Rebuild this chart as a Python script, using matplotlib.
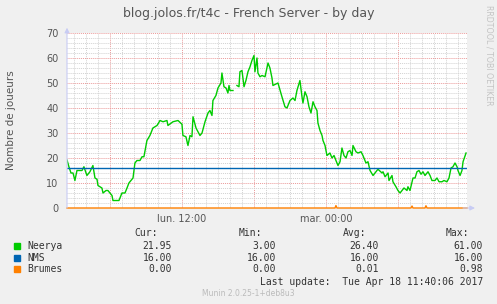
import numpy as np
import matplotlib.pyplot as plt
from matplotlib.ticker import MultipleLocator, FixedLocator

# Time in hours since Monday 00:00
neerya_t = [2.42, 2.58, 2.75, 2.92, 3.08, 3.25, 3.67, 3.83, 4.08, 4.33, 4.58, 4.75, 4.92, 5.0,
            5.33, 5.42, 5.67, 5.83, 6.17, 6.25, 6.75, 7.0, 7.25, 7.42, 7.58, 7.92, 8.08, 8.25,
            8.5, 8.67, 8.83, 9.08, 9.33, 9.58, 9.92, 10.17, 10.42, 10.75, 10.83, 11.25, 11.67,
            12.0, 12.08, 12.33, 12.5, 12.67, 12.83, 12.92, 13.17, 13.33, 13.5, 13.67, 13.92,
            14.17, 14.33, 14.5, 14.58, 14.83, 15.0, 15.25, 15.33, 15.5, 15.67, 15.83, 15.92,
            16.0, 16.25, 16.42, 16.58, 16.75, 16.83, 17.0, 17.17, 17.33, 17.5, 17.67, 17.83,
            18.0, 18.08, 18.25, 18.33, 18.5, 18.67, 18.92, 19.08, 19.17, 19.33, 19.5, 19.58,
            20.0, 20.33, 20.58, 20.75, 21.0, 21.25, 21.42, 21.58, 21.83, 22.0, 22.08, 22.25,
            22.42, 22.58, 22.75, 22.92, 23.08, 23.25, 23.33, 23.5, 23.67, 23.75, 23.92, 24.08,
            24.33, 24.5, 24.67, 24.83, 25.0, 25.17, 25.33, 25.5, 25.67, 25.83, 26.0, 26.17,
            26.25, 26.5, 26.67, 26.92, 27.08, 27.33, 27.5, 27.67, 27.92, 28.17, 28.33, 28.67,
            28.75, 28.92, 29.17, 29.25, 29.5, 29.58, 29.83, 30.0, 30.17, 30.33, 30.5, 30.75,
            30.83, 31.0, 31.17, 31.25, 31.42, 31.58, 31.75, 31.92, 32.08, 32.25, 32.5, 32.67,
            32.83, 33.08, 33.25, 33.42, 33.67, 33.83, 34.08, 34.25, 34.42, 34.58, 34.75, 34.92,
            35.0, 35.17, 35.33, 35.42, 35.67]
neerya_v = [19.2, 16.5, 14, 14, 11, 15, 15, 16.5, 13, 14.5, 17, 12, 11.5, 9,
            8, 6, 7, 7, 5, 3, 3, 6, 6, 8, 10, 12, 18, 19,
            19, 20.5, 20.5, 27, 29, 32, 33, 35, 34.5, 35, 33, 34.5, 35,
            33.5, 29, 28.5, 25, 29, 28.5, 36.5, 32, 30.5, 29, 30, 34.5,
            38, 39, 37, 43, 45, 48, 50, 54, 48.5, 48, 46, 49,
            47, 47, np.nan, 49, 48.5, 54.5, 55, 48.5, 51, 54.5, 56.5, 59,
            61, 54.5, 60, 54, 52.5, 53, 52.5, 56, 58, 56, 52, 49,
            50, 44.5, 40.5, 40, 43, 44, 43, 47, 51, 44.5, 42, 46.5,
            44.5, 40.5, 38, 42.5, 40.5, 39, 34, 31, 29, 27, 25, 21,
            22, 20, 21, 19, 17, 18.5, 24, 21, 20, 22.5, 23, 21,
            25, 22.5, 22, 22.5, 21, 18, 18.5, 15, 13, 14.5, 15.5, 14,
            14.5, 12.5, 14, 11, 13, 10.5, 8.5, 7, 6, 7, 8, 7,
            8.5, 7, 10.5, 12, 12, 14.5, 15, 13.5, 14.5, 13, 14.5, 13,
            11, 11, 12, 10.5, 10.5, 11, 10.5, 12, 16, 16.5, 18, 16.5,
            15, 13, 15, 18.5, 22]

nms_t = [2.42, 35.75]
nms_v = [16, 16]

brumes_t = [2.42, 24.75, 24.83, 24.92, 31.08, 31.17, 31.25, 32.25, 32.33, 32.42, 35.75]
brumes_v = [0, 0, 0.98, 0, 0, 0.8, 0, 0, 0.9, 0, 0]

names = ['Neerya', 'NMS', 'Brumes']
colors = ['#00cc00', '#0066b3', '#ff8000']
cur = ['21.95', '16.00', '0.00']
mins = ['3.00', '16.00', '0.00']
avgs = ['26.40', '16.00', '0.01']
maxs = ['61.00', '16.00', '0.98']

xlabels = ['lun. 12:00', 'mar. 00:00']

W, H = 497, 304
fig = plt.figure(figsize=(W / 100, H / 100), dpi=100, facecolor='#f0f0f0')
ax = fig.add_axes([67 / W, 96 / H, 400 / W, 175 / H])
ax.set_facecolor('white')

x0, x1 = 2.42, 35.75
ax.set_xlim(x0, x1)
ax.set_ylim(0, 70)

# grid: red every 6h / 10 players, grey every hour / 2 players
ax.xaxis.set_major_locator(FixedLocator([6, 12, 18, 24, 30]))
ax.xaxis.set_minor_locator(MultipleLocator(1))
ax.yaxis.set_major_locator(MultipleLocator(10))
ax.yaxis.set_minor_locator(MultipleLocator(2))
ax.grid(which='minor', color='#d2d2d2', linestyle=(0, (1, 1)), linewidth=0.7)
ax.grid(which='major', color='#eb9a9a', linestyle=(0, (1, 1)), linewidth=0.7)
ax.set_axisbelow(True)
ax.set_xticklabels(['', xlabels[0], '', xlabels[1], ''])
ax.tick_params(which='both', length=0, labelsize=7, colors='#555555', pad=4)
ax.tick_params(axis='y', pad=6)
for s in ax.spines.values():
    s.set_visible(False)

ax.plot(neerya_t, neerya_v, color=colors[0], lw=1.0)
ax.plot(nms_t, nms_v, color=colors[1], lw=1.0)
ax.plot(brumes_t, brumes_v, color=colors[2], lw=1.0, clip_on=False)

# axes with arrows
axis_col = '#c8ccf4'
ax.annotate('', xy=(0, 1.03), xytext=(0, 0), xycoords='axes fraction',
            arrowprops=dict(arrowstyle='-|>', color=axis_col, lw=0.8, mutation_scale=7,
                            shrinkA=0, shrinkB=0), annotation_clip=False)
ax.annotate('', xy=(1.02, 0), xytext=(0.99, 0), xycoords='axes fraction',
            arrowprops=dict(arrowstyle='-|>', color=axis_col, lw=0.8, mutation_scale=7,
                            shrinkA=0, shrinkB=0), annotation_clip=False)

ax.set_ylabel('Nombre de joueurs', fontsize=7.5, color='#555555', labelpad=22)

fig.text(249 / W, 1 - 14 / H, 'blog.jolos.fr/t4c - French Server - by day',
         ha='center', va='center', fontsize=9, color='#555555')
fig.text(489 / W, 1 - 5 / H, 'RRDTOOL / TOBI OETIKER', rotation=270,
         ha='center', va='top', fontsize=5.7, color='#c4c4c4')

# legend table
mono = dict(family='DejaVu Sans Mono', fontsize=7, color='#333333', va='center')
hy = 1 - 233 / H
cols = [158, 262, 366, 469]
for xc, lab in zip(cols, ['Cur:', 'Min:', 'Avg:', 'Max:']):
    fig.text(xc / W, hy, lab, ha='right', **mono)
vcols = [172, 276, 379, 483]
for i, name in enumerate(names):
    y = 1 - (246 + 11.7 * i) / H
    fig.patches.append(plt.Rectangle((14 / W, y - 3 / H), 6 / W, 6 / H,
                                     transform=fig.transFigure, color=colors[i]))
    fig.text(27 / W, y, name, ha='left', **mono)
    for xc, val in zip(vcols, [cur[i], mins[i], avgs[i], maxs[i]]):
        fig.text(xc / W, y, val, ha='right', **mono)
fig.text(483 / W, 1 - 282 / H, 'Last update:  Tue Apr 18 11:40:06 2017', ha='right', **mono)
fig.text(248 / W, 1 - 293 / H, 'Munin 2.0.25-1+deb8u3', ha='center', va='center',
         fontsize=5.5, color='#bbbbbb')

fig.savefig('out.png', dpi=100, facecolor=fig.get_facecolor())
